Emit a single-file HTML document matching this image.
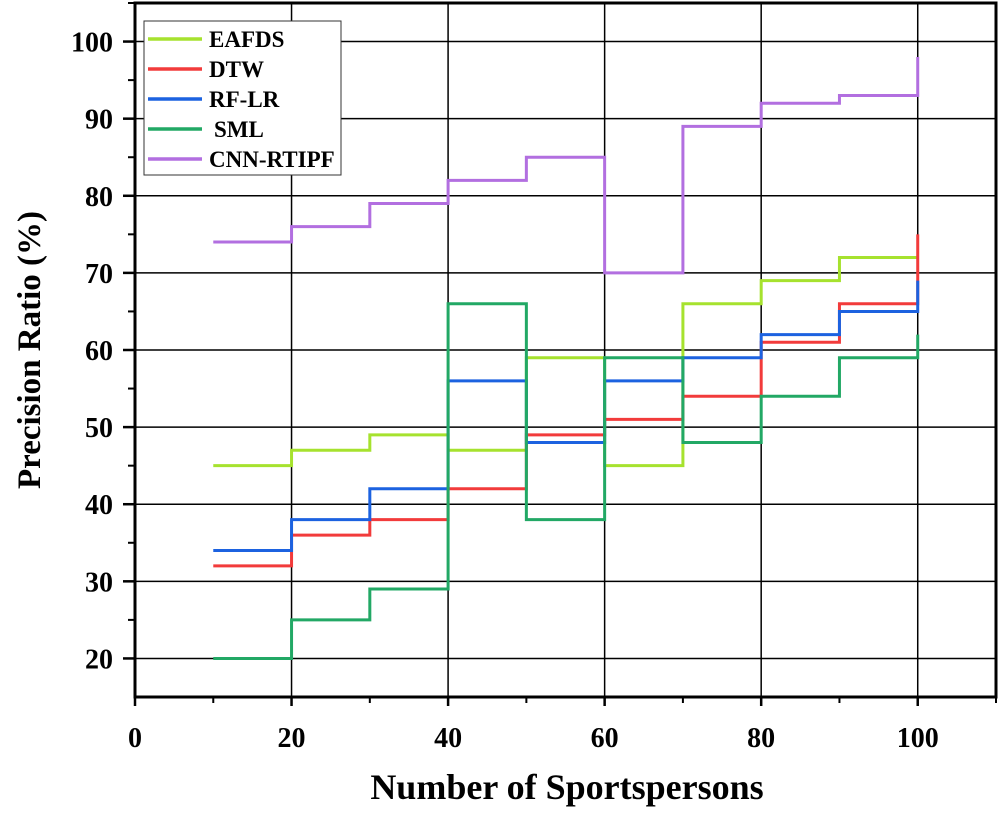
<!DOCTYPE html>
<html><head><meta charset="utf-8"><style>
body{margin:0;background:#fff;}
svg text{font-family:"Liberation Serif",serif;font-weight:bold;fill:#000;}
</style></head><body>
<svg id="chart" width="1000" height="810">
<g id="grid"></g>
<g id="series"></g>
<g id="axes"></g>
<text x="567" y="799" text-anchor="middle" font-size="36">Number of Sportspersons</text>
<text transform="translate(40,350) rotate(-90)" text-anchor="middle" font-size="33">Precision Ratio (%)</text>
<g id="legend"></g>
</svg>
<script>
const xValues=[10,20,30,40,50,60,70,80,90,100];
const seriesNames=["EAFDS","DTW","RF-LR","SML","CNN-RTIPF"];
const seriesColors=["#a6e22e","#f23b3b","#1c62e0","#22a865","#b26fe0"];
const eafds=[45,47,49,47,59,45,66,69,72,72];
const dtw=[32,36,38,42,49,51,54,61,66,75];
const rflr=[34,38,42,56,48,56,59,62,65,69];
const sml=[20,25,29,66,38,59,48,54,59,62];
const cnn=[74,76,79,82,85,70,89,92,93,98];
const xTicks=[0,20,40,60,80,100];
const yTicks=[20,30,40,50,60,70,80,90,100];
const allSeries=[eafds,dtw,rflr,sml,cnn];
const NS="http://www.w3.org/2000/svg";
const L=135,R=996,T=3,B=697,xMin=0,xMax=110,yMin=15,yMax=105;
const sx=v=>L+(v-xMin)/(xMax-xMin)*(R-L);
const sy=v=>B-(v-yMin)/(yMax-yMin)*(B-T);
function mk(tag,attrs,parent){const e=document.createElementNS(NS,tag);for(const k in attrs)e.setAttribute(k,attrs[k]);parent.appendChild(e);return e;}
const grid=document.getElementById('grid'),axes=document.getElementById('axes'),ser=document.getElementById('series'),leg=document.getElementById('legend');
xTicks.forEach(t=>{if(t>0){const g=mk('line',{x1:sx(t),x2:sx(t),y1:T,y2:B,stroke:'#000','stroke-width':1.5},grid);

}
const tk=mk('line',{x1:sx(t),x2:sx(t),y1:B,y2:B+9,stroke:'#000','stroke-width':2.5},axes);


const tx=mk('text',{x:sx(t),y:B+50,'text-anchor':'middle','font-size':28},axes);tx.textContent=t;


const mt=mk('line',{x1:sx(t+10),x2:sx(t+10),y1:B,y2:B+6,stroke:'#000','stroke-width':2},axes);

});
yTicks.forEach(t=>{const g=mk('line',{x1:L,x2:R,y1:sy(t),y2:sy(t),stroke:'#000','stroke-width':1.5},grid);


const tk=mk('line',{x1:L-12,x2:L,y1:sy(t),y2:sy(t),stroke:'#000','stroke-width':2.5},axes);


const mt=mk('line',{x1:L-7,x2:L,y1:sy(t+5),y2:sy(t+5),stroke:'#000','stroke-width':2},axes);


const tx=mk('text',{x:L-22,y:sy(t)+10,'text-anchor':'end','font-size':28},axes);tx.textContent=t;

});
const fr=mk('rect',{x:L,y:T,width:R-L,height:B-T,fill:'none',stroke:'#000','stroke-width':3},axes);


allSeries.forEach((vals,i)=>{let d='M'+sx(xValues[0])+','+sy(vals[0]);
for(let j=1;j<vals.length;j++){d+=' H'+sx(xValues[j])+' V'+sy(vals[j]);}
const p=mk('path',{d:d,fill:'none',stroke:seriesColors[i],'stroke-width':3},ser);

});
const lb=mk('rect',{x:144,y:21,width:197,height:154,fill:'#fff',stroke:'#333','stroke-width':1},leg);


seriesNames.forEach((n,i)=>{const y=39+i*30;
const ln=mk('line',{x1:148,x2:202,y1:y,y2:y,stroke:seriesColors[i],'stroke-width':3.5},leg);


const t=mk('text',{x:n==='SML'?214:209,y:y+8,'font-size':23},leg);t.textContent=n;

});
</script>
</body></html>
